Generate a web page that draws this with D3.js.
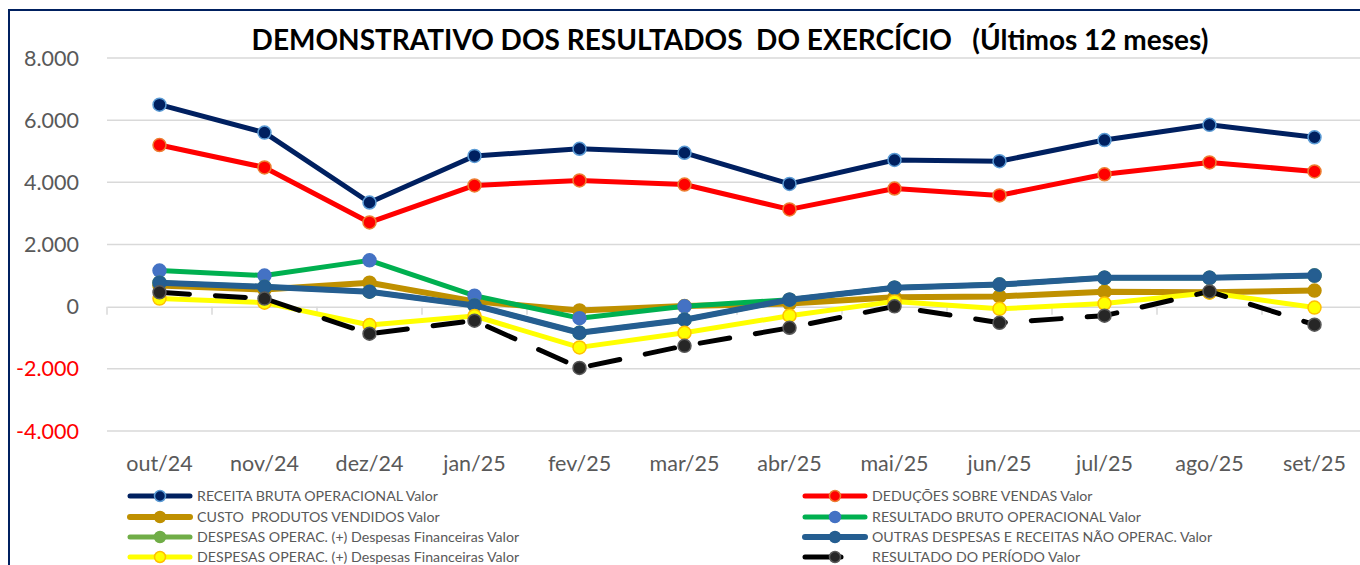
<!DOCTYPE html>
<html>
<head>
<meta charset="utf-8">
<script src="https://cdn.jsdelivr.net/npm/d3@7"></script>
<style>
  html, body { margin: 0; padding: 0; background: #fff; overflow: hidden; }
  svg { display: block; font-family: Lato, 'Open Sans', sans-serif; }
</style>
</head>
<body>
<div id="chart"></div>
<script>
const months = ['out/24', 'nov/24', 'dez/24', 'jan/25', 'fev/25', 'mar/25',
  'abr/25', 'mai/25', 'jun/25', 'jul/25', 'ago/25', 'set/25'];

const yTicks = [-4000, -2000, 0, 2000, 4000, 6000, 8000];

const receitaBruta = [6500, 5600, 3350, 4850, 5080, 4950, 3950, 4720, 4680, 5360, 5850, 5450];
const deducoes = [5200, 4480, 2710, 3900, 4060, 3930, 3130, 3800, 3580, 4260, 4640, 4350];
const custoProdutos = [680, 550, 770, 170, -120, 20, 100, 300, 330, 480, 460, 520];
const resultadoBruto = [1160, 1000, 1490, 355, -370, 10, 225, 610, 710, 930, 930, 1000];
const outrasDespesas = [770, 640, 480, 40, -840, -420, 225, 610, 710, 930, 930, 1000];
const despesasOperacVerde = [770, 640, 480, 40, -840, -420, 225, 610, 710, 930, 930, 1000];
const despesasOperacAmarelo = [260, 130, -590, -300, -1310, -840, -290, 170, -70, 100, 450, -30];
const resultadoPeriodo = [460, 260, -870, -450, -1970, -1260, -680, 10, -520, -290, 490, -580];

const seriesNames = [
  'RECEITA BRUTA OPERACIONAL Valor',
  'DEDUÇÕES SOBRE VENDAS Valor',
  'CUSTO  PRODUTOS VENDIDOS Valor',
  'RESULTADO BRUTO OPERACIONAL Valor',
  'DESPESAS OPERAC. (+) Despesas Financeiras Valor',
  'OUTRAS DESPESAS E RECEITAS NÃO OPERAC. Valor',
  'DESPESAS OPERAC. (+) Despesas Financeiras Valor',
  'RESULTADO DO PERÍODO Valor'
];

const W = 1360, H = 565;

// Excel draws series in this order, later ones on top
const series = [
  { name: seriesNames[0], values: receitaBruta, line: '#002060', fill: '#002060', ring: '#5B9BD5', w: 5 },
  { name: seriesNames[1], values: deducoes, line: '#FF0000', fill: '#FF0000', ring: '#ED7D31', w: 5 },
  { name: seriesNames[2], values: custoProdutos, line: '#BF9000', fill: '#BF9000', ring: '#BF9000', w: 6 },
  { name: seriesNames[3], values: resultadoBruto, line: '#00B050', fill: '#4472C4', ring: '#4472C4', w: 5 },
  { name: seriesNames[4], values: despesasOperacVerde, line: '#70AD47', fill: '#70AD47', ring: '#70AD47', w: 5 },
  { name: seriesNames[5], values: outrasDespesas, line: '#255E91', fill: '#255E91', ring: '#255E91', w: 6 },
  { name: seriesNames[6], values: despesasOperacAmarelo, line: '#FFFF00', fill: '#FFFF00', ring: '#FFC000', w: 5 },
  { name: seriesNames[7], values: resultadoPeriodo, line: '#000000', fill: '#262626', ring: '#595959', w: 5, dash: '30,26' }
];

const svg = d3.select('#chart').append('svg')
  .attr('width', W)
  .attr('height', H);

// outer frame
svg.append('rect')
  .attr('x', 9).attr('y', 10)
  .attr('width', W + 20).attr('height', H + 20)
  .attr('fill', 'none')
  .attr('stroke', '#002060')
  .attr('stroke-width', 2);

const x = d3.scaleBand().domain(months).range([107, 1367]);
const y = d3.scaleLinear().domain([-4000, 8000]).range([431, 58]);

// gridlines
svg.append('g')
  .selectAll('line')
  .data(yTicks.filter(t => t !== 0))
  .join('line')
  .attr('x1', 107).attr('x2', 1367)
  .attr('y1', d => y(d)).attr('y2', d => y(d))
  .attr('stroke', '#D9D9D9')
  .attr('stroke-width', 1.5);

// category axis on zero line
const xAxis = svg.append('g')
  .attr('transform', `translate(0,${y(0)})`)
  .call(d3.axisBottom(x).tickSize(0).tickFormat(''));
xAxis.select('.domain').attr('stroke', '#D9D9D9').attr('stroke-width', 1.5);
xAxis.selectAll('.tick').remove();
xAxis.selectAll('line.sep')
  .data(months)
  .join('line')
  .attr('class', 'sep')
  .attr('x1', d => x(d)).attr('x2', d => x(d))
  .attr('y1', 0).attr('y2', 8)
  .attr('stroke', '#D9D9D9')
  .attr('stroke-width', 1.5);

// y labels
const fmt = d3.formatLocale({ decimal: ',', thousands: '.', grouping: [3], currency: ['R$', ''] }).format(',d');
svg.append('g')
  .selectAll('text')
  .data(yTicks)
  .join('text')
  .attr('x', 79)
  .attr('y', d => y(d))
  .attr('dy', '0.35em')
  .attr('text-anchor', 'end')
  .attr('font-size', 21.5)
  .attr('fill', d => d < 0 ? '#FF0000' : '#595959')
  .text(d => fmt(d).replace('−', '-'));

// month labels
svg.append('g')
  .selectAll('text')
  .data(months)
  .join('text')
  .attr('x', d => x(d) + x.bandwidth() / 2)
  .attr('y', 471)
  .attr('text-anchor', 'middle')
  .attr('font-size', 21.5)
  .attr('fill', '#595959')
  .text(d => d);

// title
svg.append('text')
  .attr('x', 730)
  .attr('y', 50)
  .attr('text-anchor', 'middle')
  .attr('font-size', 28)
  .attr('font-weight', 'bold')
  .attr('fill', '#000')
  .attr('xml:space', 'preserve')
  .style('white-space', 'pre')
  .text('DEMONSTRATIVO DOS RESULTADOS  DO EXERCÍCIO   (Últimos 12 meses)');

// lines + markers
const lineGen = d3.line()
  .x((d, i) => x(months[i]) + x.bandwidth() / 2)
  .y(d => y(d));

series.forEach(s => {
  const g = svg.append('g');
  g.append('path')
    .datum(s.values)
    .attr('d', lineGen)
    .attr('fill', 'none')
    .attr('stroke', s.line)
    .attr('stroke-width', s.w)
    .attr('stroke-linejoin', 'round')
    .attr('stroke-linecap', 'round')
    .attr('stroke-dasharray', s.dash || null);
  g.selectAll('circle')
    .data(s.values)
    .join('circle')
    .attr('cx', (d, i) => x(months[i]) + x.bandwidth() / 2)
    .attr('cy', d => y(d))
    .attr('r', 6.5)
    .attr('fill', s.fill)
    .attr('stroke', s.ring)
    .attr('stroke-width', 1.5);
});

// legend
const legendRows = [496, 517, 537, 557];
const legend = svg.append('g');
series.forEach((s, i) => {
  const col = i % 2;
  const row = Math.floor(i / 2);
  const x0 = col === 0 ? 130 : 805;
  const yy = legendRows[row];
  const g = legend.append('g').attr('transform', `translate(${x0},${yy})`);
  g.append('line')
    .attr('x1', 0).attr('x2', 60)
    .attr('y1', 0).attr('y2', 0)
    .attr('stroke', s.line)
    .attr('stroke-width', s.w)
    .attr('stroke-linecap', 'round')
    .attr('stroke-dasharray', s.dash ? '36,24' : null);
  g.append('circle')
    .attr('cx', 30).attr('cy', 0)
    .attr('r', 5.5)
    .attr('fill', s.fill)
    .attr('stroke', s.ring)
    .attr('stroke-width', 1.5);
  g.append('text')
    .attr('x', 67)
    .attr('y', 0)
    .attr('dy', '0.35em')
    .attr('font-size', 14.2)
    .attr('fill', '#595959')
    .attr('xml:space', 'preserve')
    .style('white-space', 'pre')
    .text(s.name);
});
</script>
</body>
</html>
